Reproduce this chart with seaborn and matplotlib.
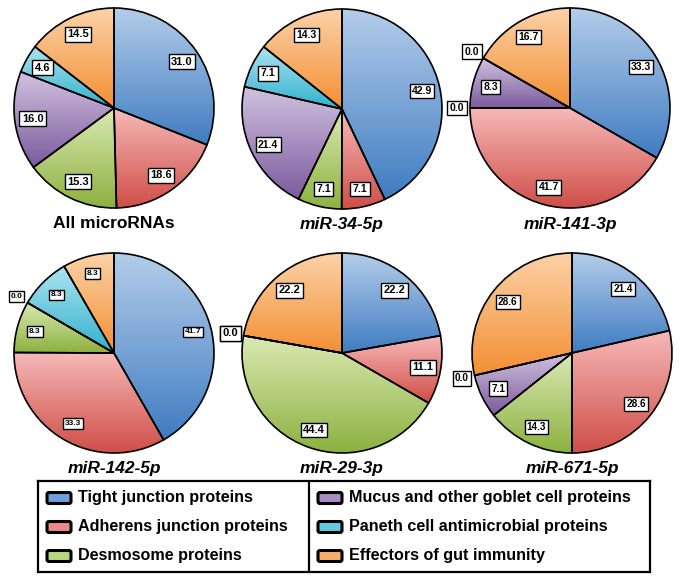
import matplotlib
matplotlib.use('Agg')
import matplotlib.pyplot as plt
import numpy as np
import seaborn as sns
from matplotlib.colors import LinearSegmentedColormap
from matplotlib.patches import FancyBboxPatch

# ─── Data ─────────────────────────────────────────────────────────────────────

categories = [
    'Tight junction proteins',
    'Adherens junction proteins',
    'Desmosome proteins',
    'Mucus and other goblet cell proteins',
    'Paneth cell antimicrobial proteins',
    'Effectors of gut immunity',
]
panel_titles = ['All microRNAs', 'miR-34-5p', 'miR-141-3p',
                'miR-142-5p', 'miR-29-3p', 'miR-671-5p']

all_micrornas = [31.0, 18.6, 15.3, 16.0, 4.6, 14.5]
mir_34_5p = [42.9, 7.1, 7.1, 21.4, 7.1, 14.3]
mir_141_3p = [33.3, 41.7, 0.0, 8.3, 0.0, 16.7]
mir_142_5p = [41.7, 33.3, 8.3, 0.0, 8.3, 8.3]
mir_29_3p = [22.2, 11.1, 44.4, 0.0, 0.0, 22.2]
mir_671_5p = [21.4, 28.6, 14.3, 7.1, 0.0, 28.6]

panel_values = [all_micrornas, mir_34_5p, mir_141_3p,
                mir_142_5p, mir_29_3p, mir_671_5p]

# gradient colours (top, bottom) per category
top_colors = ['#b4cdea', '#f6b9b8', '#dbe9b4', '#d2c3e0', '#aee3f0', '#fcd2a8']
bottom_colors = ['#3f7cc1', '#d04e48', '#8cb13f', '#7b5a9e', '#2fb1cd', '#f38f33']
swatch_colors = ['#6f9fd6', '#e88a88', '#b9d67f', '#a88cc4', '#5fcbe2', '#f8ae6b']

# ─── Style ────────────────────────────────────────────────────────────────────

sns.set_style('white')
plt.rcParams['font.family'] = ['Liberation Sans', 'DejaVu Sans']
plt.rcParams['text.color'] = 'black'

W, H = 681, 580
fig = plt.figure(figsize=(W / 100, H / 100), dpi=100)

centers = [(114, 108), (342, 109), (570, 108),
           (114, 353), (342, 353), (572, 353)]
radius_px = 100
label_sizes = [8, 7.5, 7.5, 6, 8, 7.2]


def draw_pie(ax, values, title, label_size, italic):
    wedges, _ = ax.pie(values, startangle=90, counterclock=False, radius=1,
                       wedgeprops=dict(linewidth=1.2, edgecolor='black'))
    for w, top, bot in zip(wedges, top_colors, bottom_colors):
        w.set_facecolor('none')
        if abs(w.theta2 - w.theta1) < 1e-6:
            continue
        ext = w.get_path().get_extents()
        cmap = LinearSegmentedColormap.from_list('g', [bot, top])
        grad = np.linspace(0, 1, 256).reshape(-1, 1)
        im = ax.imshow(grad, cmap=cmap, origin='lower', aspect='auto',
                       extent=(ext.x0, ext.x1, ext.y0, ext.y1),
                       interpolation='bilinear', zorder=0.5)
        im.set_clip_path(w)

    for w, v in zip(wedges, values):
        ang = np.deg2rad((w.theta1 + w.theta2) / 2)
        d = 0.82 if v > 0 else 1.13
        ax.text(d * np.cos(ang), d * np.sin(ang), f'{v:.1f}',
                ha='center', va='center', fontsize=label_size,
                fontweight='bold', zorder=5,
                bbox=dict(boxstyle='square,pad=0.22', fc='white',
                          ec='black', lw=1.0))

    ax.text(0, -1.16, title, ha='center', va='center', fontsize=12.5,
            fontweight='bold', style='italic' if italic else 'normal')
    ax.set_xlim(-1.25, 1.25)
    ax.set_ylim(-1.25, 1.25)
    ax.set_aspect('equal')
    ax.axis('off')


half = 1.25 * radius_px
for i, (cx, cy) in enumerate(centers):
    ax = fig.add_axes([(cx - half) / W, (H - cy - half) / H,
                       2 * half / W, 2 * half / H])
    draw_pie(ax, panel_values[i], panel_titles[i], label_sizes[i], italic=i > 0)

# ─── Legend box ───────────────────────────────────────────────────────────────

lx0, lx1, ly0, ly1 = 38, 650, 481, 572
lax = fig.add_axes([lx0 / W, (H - ly1) / H, (lx1 - lx0) / W, (ly1 - ly0) / H])
lax.set_xlim(lx0, lx1)
lax.set_ylim(ly1, ly0)
lax.set_xticks([])
lax.set_yticks([])
for s in lax.spines.values():
    s.set_visible(True)
    s.set_color('black')
    s.set_linewidth(1.6)
lax.axvline(309, color='black', lw=1.6)

rows_y = [498, 527, 556]
col_x = [46, 317]
for k, (name, col) in enumerate(zip(categories, swatch_colors)):
    c = k // 3
    y = rows_y[k % 3]
    x = col_x[c]
    lax.add_patch(FancyBboxPatch((x + 1, y - 5.5), 24, 11,
                                 boxstyle='round,pad=0,rounding_size=2',
                                 fc=col, ec='black', lw=2.2))
    lax.text(x + 32, y, name, ha='left', va='center',
             fontsize=11.6, fontweight='bold')

fig.savefig('out.png', dpi=100)
